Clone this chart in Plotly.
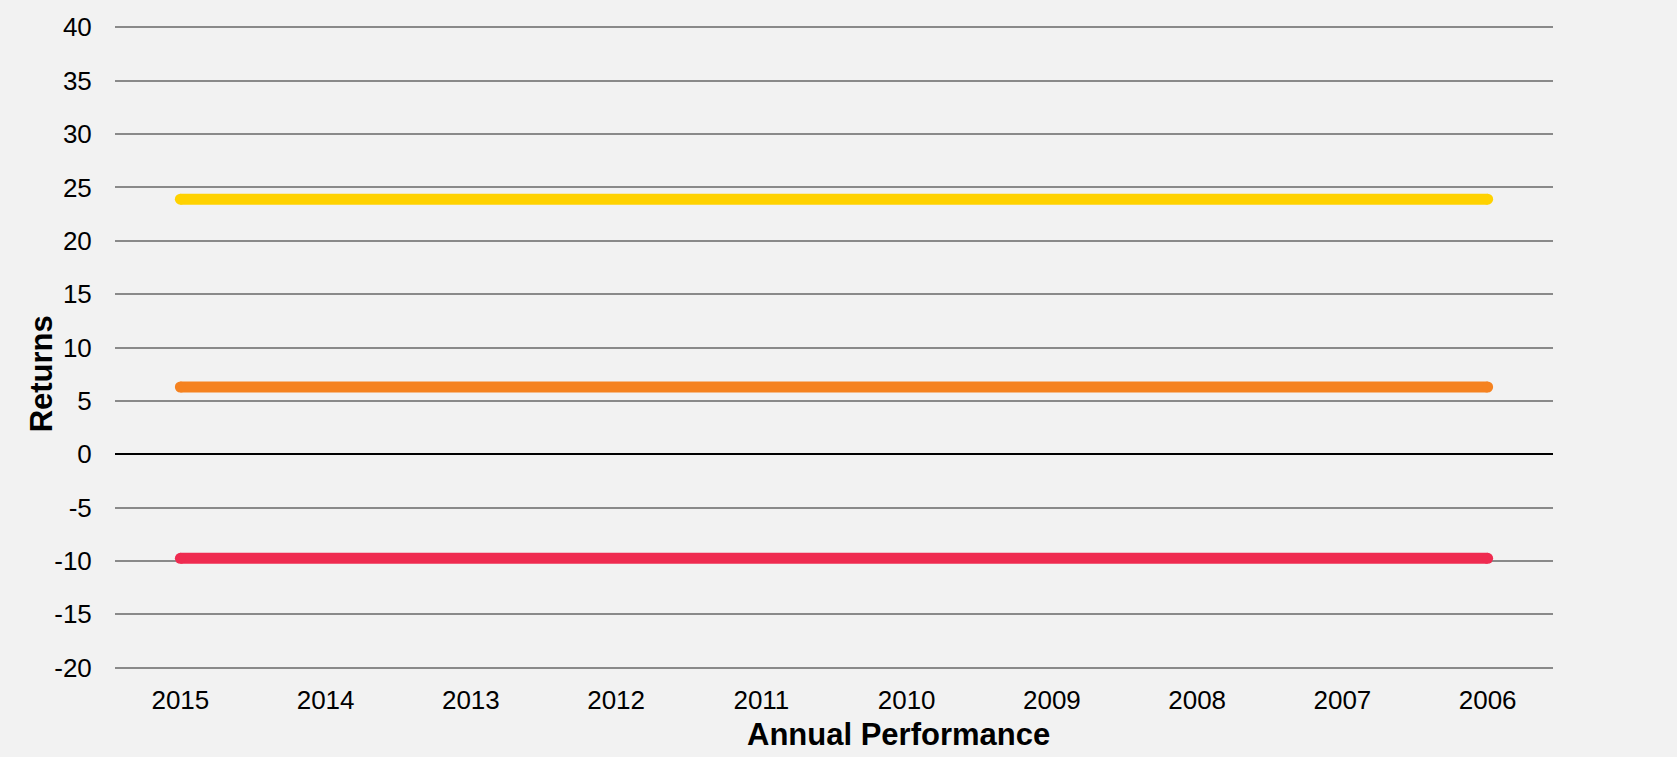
import plotly.graph_objects as go

years = ["2015", "2014", "2013", "2012", "2011", "2010", "2009", "2008", "2007", "2006"]
series_high = [23.9] * 10
series_mid = [6.3] * 10
series_low = [-9.75] * 10
y_ticks = [-20, -15, -10, -5, 0, 5, 10, 15, 20, 25, 30, 35, 40]
y_tick_text = ["-20", "-15", "-10", "-5", "0", "5", "10", "15", "20", "25", "30", "35", "40"]

colors = {"high": "#FFD200", "mid": "#F58220", "low": "#EF2B50"}

n = len(years)
end_sizes = [11] + [0] * (n - 2) + [11]

fig = go.Figure()
for name, vals in [("high", series_high), ("mid", series_mid), ("low", series_low)]:
    fig.add_trace(go.Scatter(
        x=list(range(n)), y=vals, mode="lines+markers",
        line=dict(color=colors[name], width=11),
        marker=dict(color=colors[name], size=end_sizes, opacity=1, line=dict(width=0)),
        showlegend=False, hoverinfo="skip"))

# pixel layout: y=40 at 24px, y=-20 at 668px; pad range by 0.5 units so edge gridlines render
px_per_unit = (668 - 24) / 60.0
pad = 0.5
top_m = 24 - pad * px_per_unit
bot_m = (757 - 668) - pad * px_per_unit
plot_h = 757 - top_m - bot_m

font = "Liberation Sans, Arial, sans-serif"
fig.update_layout(
    width=1677, height=757,
    paper_bgcolor="#F2F2F2", plot_bgcolor="#F2F2F2",
    margin=dict(l=115, r=124, t=top_m, b=bot_m),
    font=dict(family=font, size=26, color="#000000"),
    xaxis=dict(
        range=[-0.45, n - 0.55],
        tickmode="array", tickvals=list(range(n)), ticktext=years,
        showgrid=False, zeroline=False, showline=False,
        ticks="outside", ticklen=4, tickcolor="rgba(0,0,0,0)",
        tickfont=dict(family=font, size=26, color="#000"),
    ),
    yaxis=dict(
        range=[-20 - pad, 40 + pad], tickmode="array", tickvals=y_ticks, ticktext=y_tick_text,
        showgrid=True, gridcolor="#8a8a8a", gridwidth=1.5,
        zeroline=True, zerolinecolor="#000000", zerolinewidth=1.5,
        showline=False,
        ticks="outside", ticklen=17, tickcolor="rgba(0,0,0,0)",
        tickfont=dict(family=font, size=26, color="#000"),
    ),
    annotations=[
        dict(text="<b>Annual Performance</b>", xref="paper", yref="paper",
             x=(898 - 115) / (1677 - 115 - 124), y=-(735 - (757 - bot_m)) / plot_h,
             xanchor="center", yanchor="middle", showarrow=False,
             font=dict(family=font, size=31, color="#000")),
        dict(text="<b>Returns</b>", xref="paper", yref="paper",
             x=-(115 - 41) / (1677 - 115 - 124), y=1 - (373 - top_m) / plot_h,
             xanchor="center", yanchor="middle", textangle=-90, showarrow=False,
             font=dict(family=font, size=31, color="#000")),
    ],
)

fig.write_html("out.html")
